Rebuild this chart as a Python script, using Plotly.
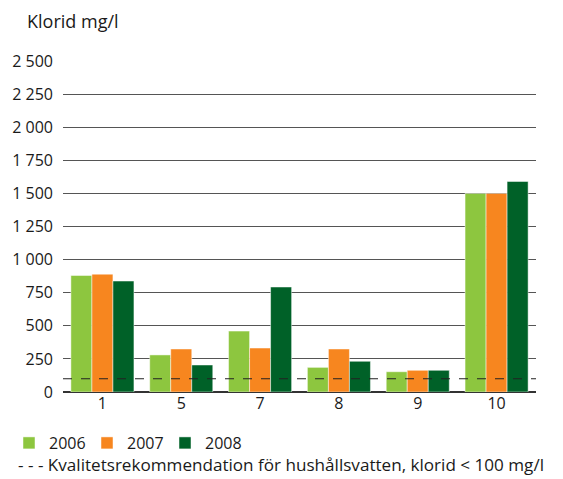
import plotly.graph_objects as go

categories = ["1", "5", "7", "8", "9", "10"]
v2006 = [880, 280, 460, 186, 153, 1500]
v2007 = [890, 325, 332, 325, 164, 1500]
v2008 = [838, 204, 793, 232, 164, 1590]
years = ["2006", "2007", "2008"]
colors = ["#8DC63F", "#F7861F", "#006128"]
yticks = [0, 250, 500, 750, 1000, 1250, 1500, 1750, 2000, 2250, 2500]
yticklabels = ["0", "250", "500", "750", "1 000", "1 250", "1 500", "1 750", "2 000", "2 250", "2 500"]
limit = 100

FONT = "Open Sans"
PW = 473.0  # plot width px
PH = 331.0  # plot height px

fig = go.Figure()
for yr, vals, c in zip(years, [v2006, v2007, v2008], colors):
    fig.add_trace(go.Bar(x=categories, y=vals, name=yr,
                         marker=dict(color=c, line=dict(color="rgba(255,255,255,0.6)", width=0.8))))

fig.add_shape(type="line", xref="paper", x0=0, x1=1, yref="y", y0=limit, y1=limit,
              line=dict(color="#222222", width=1.2, dash="dash"), layer="above")

fig.update_layout(
    width=555, height=471,
    margin=dict(l=55, r=27, t=53, b=87, autoexpand=False),
    plot_bgcolor="white", paper_bgcolor="white",
    font=dict(family=FONT, size=16, color="#1a1a1a"),
    barmode="group", bargap=0.2, bargroupgap=0,
    showlegend=True,
    legend=dict(orientation="h", x=(9 - 63) / PW, xanchor="left", y=-51 / PH, yanchor="middle",
                font=dict(size=16), entrywidth=33, traceorder="normal", tracegroupgap=0,
                bgcolor="rgba(0,0,0,0)"),
    xaxis=dict(showgrid=False, showline=False, ticks="", tickfont=dict(size=16)),
    yaxis=dict(range=[0, 2500], tickvals=yticks, ticktext=yticklabels, showgrid=True,
               gridcolor="#555555", gridwidth=1.2, zeroline=True, zerolinecolor="#333333", zerolinewidth=2,
               showline=False, ticks="", ticklabelstandoff=9, tickfont=dict(size=16)),
)

fig.add_annotation(text="Klorid mg/l", xref="paper", yref="paper", x=(25 - 63) / PW, y=(392 - 21) / PH,
                   xanchor="left", yanchor="middle", showarrow=False, font=dict(size=18))
fig.add_annotation(text="- - - Kvalitetsrekommendation för hushållsvatten, klorid < 100 mg/l",
                   xref="paper", yref="paper", x=(16 - 63) / PW, y=-86.5 / PH,
                   xanchor="left", yanchor="bottom", showarrow=False, font=dict(size=17.1))

fig.write_html("out.html")
